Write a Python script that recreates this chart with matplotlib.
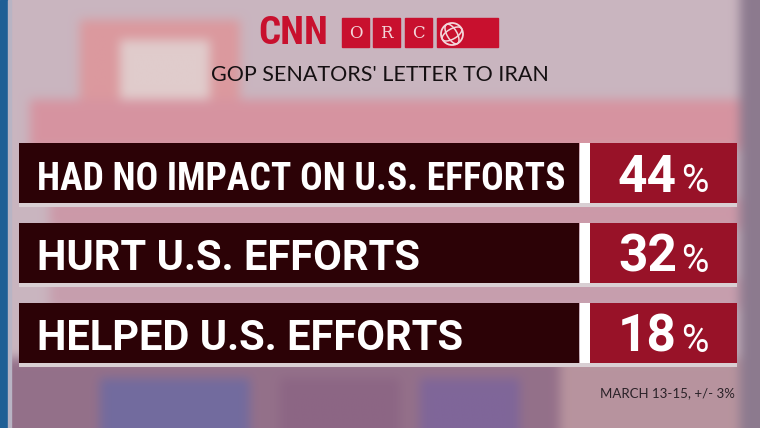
import numpy as np
import matplotlib
matplotlib.use('Agg')
import matplotlib.pyplot as plt
from matplotlib import font_manager
from matplotlib.patches import Rectangle, Circle, Arc

# ---- data ----
TITLE = "GOP SENATORS' LETTER TO IRAN"
CATEGORIES = ['HAD NO IMPACT ON U.S. EFFORTS', 'HURT U.S. EFFORTS', 'HELPED U.S. EFFORTS']
VALUES = [44, 32, 18]
FOOTNOTE = 'MARCH 13-15, +/- 3%'
LOGO_LETTERS = ['O', 'R', 'C']

DARK = '#2c0206'
RED = '#981228'
PANEL_TEXT_W = 528
LABEL_SIZE = 30


def pick_condensed():
    """Find a condensed/narrow bold face if one is installed."""
    fonts = font_manager.fontManager.ttflist
    names = {f.name for f in fonts}
    for cand in ['Roboto Condensed', 'Liberation Sans Narrow', 'Open Sans Condensed',
                 'DejaVu Sans Condensed', 'Noto Sans Condensed']:
        if cand in names:
            return dict(family=cand)
    for f in fonts:
        if f.name == 'DejaVu Sans' and f.stretch in ('condensed', 'semi-condensed'):
            return dict(family='DejaVu Sans', fontstretch='condensed')
    return dict(family='Roboto')


NARROW_KW = pick_condensed()
WIDE_KW = dict(family='Roboto')


def make_background():
    """Blurred studio backdrop: coarse colour blocks, smoothed by imshow."""
    h, w = 43, 76
    bg = np.zeros((h, w, 3))
    bg[:] = np.array([0.79, 0.71, 0.75])
    bg[2:13, 8:24] = [0.86, 0.60, 0.62]
    bg[4:10, 12:21] = [0.88, 0.80, 0.80]
    bg[10:15, 3:74] = [0.84, 0.58, 0.63]
    bg[20:23, 5:74] = [0.80, 0.60, 0.66]
    bg[28:31, 5:74] = [0.78, 0.62, 0.68]
    bg[36:, :] = [0.58, 0.44, 0.54]
    bg[38:, 10:25] = [0.45, 0.42, 0.62]
    bg[38:, 28:40] = [0.55, 0.40, 0.52]
    bg[38:, 42:52] = [0.50, 0.40, 0.60]
    bg[36:, 56:74] = [0.72, 0.58, 0.62]
    bg[:, 74:] = [0.55, 0.48, 0.56]
    return bg


fig = plt.figure(figsize=(7.6, 4.28), dpi=100)
ax = fig.add_axes([0, 0, 1, 1])
ax.set_xlim(0, 760)
ax.set_ylim(428, 0)
ax.axis('off')
renderer = fig.canvas.get_renderer()

ax.imshow(make_background(), extent=(0, 760, 428, 0), interpolation='bicubic',
          aspect='auto', zorder=0)
ax.add_patch(Rectangle((0, 0), 8, 428, color='#1f5f95', zorder=1))
ax.add_patch(Rectangle((8, 0), 3, 428, color='#b8b4c4', zorder=1))

# ---- logo ----
ax.text(293, 33, 'CNN', color='#c8102e', fontsize=28, fontweight='bold',
        ha='center', va='center', zorder=3, **NARROW_KW)
box_x = [342, 373, 405]
for x0, letter in zip(box_x, LOGO_LETTERS):
    ax.add_patch(Rectangle((x0, 18), 27, 29, color='#c8102e', zorder=3))
    ax.text(x0 + 13.5, 33, letter, color='#f3d6da', fontsize=12,
            family='DejaVu Serif', ha='center', va='center', zorder=4)
ax.add_patch(Rectangle((437, 18), 61, 29, color='#c8102e', zorder=3))
ax.add_patch(Circle((452, 34), 11, fill=False, ec='#f3d6da', lw=1.3, zorder=4))
ax.add_patch(Arc((452, 34), 22, 10, angle=-30, ec='#f3d6da', lw=1.1, zorder=4))
ax.add_patch(Arc((452, 34), 10, 22, angle=-30, ec='#f3d6da', lw=1.1, zorder=4))

ax.text(380, 75, TITLE, color='#151012', fontsize=15.5, family='Lato',
        ha='center', va='center', zorder=3)

# ---- bars ----
rows = np.arange(len(CATEGORIES))
centers = 172.5 + 80 * rows
ax.barh(centers + 32, 718, left=19, height=4, color='#d9cfd3', zorder=2)
ax.barh(centers, 560, left=19, height=60, color=DARK, zorder=3)
ax.barh(centers, 10, left=580, height=60, color='white', zorder=3)
ax.barh(centers, 147, left=590, height=60, color=RED, zorder=3)

for y, cat, val in zip(centers, CATEGORIES, VALUES):
    # normal-width face; long labels get squeezed into a condensed face
    t = ax.text(37, y + 17.5, cat, color='white', fontsize=LABEL_SIZE, fontweight='bold',
                ha='left', va='baseline', zorder=4, **WIDE_KW)
    if t.get_window_extent(renderer).width > PANEL_TEXT_W:
        t.set_family(NARROW_KW['family'])
        if 'fontstretch' in NARROW_KW:
            t.set_fontstretch(NARROW_KW['fontstretch'])
        w = t.get_window_extent(renderer).width
        if w > PANEL_TEXT_W:
            t.set_fontsize(LABEL_SIZE * PANEL_TEXT_W / w)
    ax.text(677, y + 19.5, str(val), color='white', fontsize=37, fontweight='bold',
            ha='right', va='baseline', zorder=4, **WIDE_KW)
    ax.text(681, y + 19.5, '%', color='white', fontsize=27,
            ha='left', va='baseline', zorder=4, **WIDE_KW)

ax.text(735, 393, FOOTNOTE, color='#2a2228', fontsize=9.5, family='Lato',
        ha='right', va='center', zorder=3)

fig.savefig('out.png', dpi=100)
